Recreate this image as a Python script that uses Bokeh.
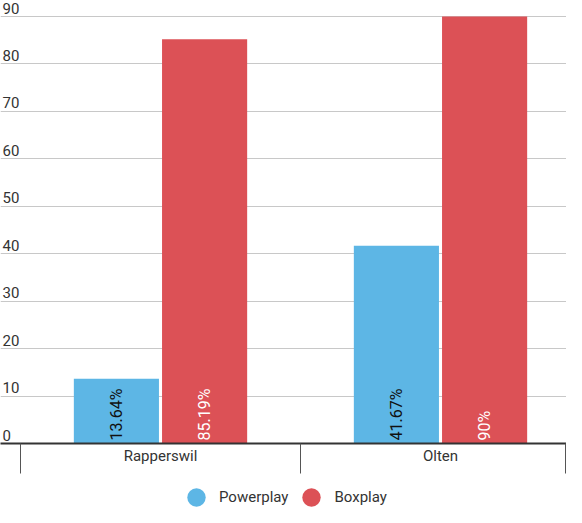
import numpy as np
from bokeh.plotting import figure
from bokeh.layouts import column
from bokeh.models import Range1d, FixedTicker, ColumnDataSource, LabelSet
from bokeh.transform import dodge
from bokeh.core.properties import value
from bokeh.embed import file_html
from bokeh.resources import INLINE

# ---- data ----
categories = ["Rapperswil", "Olten"]
series = ["Powerplay", "Boxplay"]
powerplay = [13.64, 41.67]
boxplay = [85.19, 90]
y_ticks = [0, 10, 20, 30, 40, 50, 60, 70, 80, 90]

# ---- styles ----
colors = {"Powerplay": "#5db6e5", "Boxplay": "#dc5156"}
label_colors = {"Powerplay": "#111111", "Boxplay": "#ffffff"}
offsets = {"Powerplay": -0.1575, "Boxplay": 0.1575}
bar_width = 0.304
FONT = "Roboto"
TXT = "#333333"

W = 566
H_MAIN, H_LEG = 478, 29
AXIS_Y = 443          # pixel row of the baseline
TOP_Y = 16            # pixel row of the top gridline
px_per_cat = 280
x_start = -20 / px_per_cat
x_end = x_start + W / px_per_cat
y_max = max(y_ticks)
y_end = y_max * AXIS_Y / (AXIS_Y - TOP_Y)   # headroom above top gridline for its label

cx = np.arange(len(categories)) + 0.5
src = ColumnDataSource(dict(
    cx=cx,
    Powerplay=powerplay,
    Boxplay=boxplay,
    Powerplay_lbl=[f"{v:g}%" for v in powerplay],
    Boxplay_lbl=[f"{v:g}%" for v in boxplay],
    zero=[0] * len(categories),
))

p = figure(width=W, height=H_MAIN, output_backend="svg", toolbar_location=None,
           x_range=Range1d(x_start, x_end), y_range=Range1d(0, y_end),
           y_axis_location=None,
           min_border_left=0, min_border_right=0,
           min_border_top=0, min_border_bottom=H_MAIN - AXIS_Y)
p.outline_line_color = None
p.background_fill_color = "white"
p.border_fill_color = "white"

# grid
p.xgrid.visible = False
p.ygrid.ticker = FixedTicker(ticks=y_ticks)
p.ygrid.grid_line_color = "#c8c8c8"
p.ygrid.grid_line_width = 1

# bars + labels
for s in series:
    p.vbar(x=dodge("cx", offsets[s]), top=s, width=bar_width, bottom=0,
           source=src, fill_color=colors[s], line_color=None)
    p.text(x=dodge("cx", offsets[s]), y="zero", text=f"{s}_lbl", source=src,
           angle=np.pi / 2, text_align="left", text_baseline="middle",
           y_offset=-3, text_font=value(FONT), text_font_size="16px",
           text_color=label_colors[s])

# y tick labels drawn inside plot, above gridlines
ysrc = ColumnDataSource(dict(y=y_ticks, text=[str(t) for t in y_ticks]))
p.add_layout(LabelSet(x=2, y="y", text="text", x_units="screen", source=ysrc,
                      text_baseline="alphabetic", text_align="left", y_offset=3,
                      text_font=value(FONT), text_font_size="15px",
                      text_color=TXT))

# category axis: labels at centres, separators as minor ticks at boundaries
boundaries = [min(float(i), x_end - 1 / px_per_cat) for i in range(len(categories) + 1)]
ax = p.xaxis[0]
ax.ticker = FixedTicker(ticks=list(cx), minor_ticks=boundaries)
ax.major_label_overrides = {float(c): cat for c, cat in zip(cx, categories)}
ax.major_tick_out = 0
ax.major_tick_in = 0
ax.minor_tick_in = 0
ax.minor_tick_out = 30
ax.minor_tick_line_color = "#555555"
ax.minor_tick_line_width = 1
ax.axis_line_color = "#333333"
ax.axis_line_width = 2
ax.major_label_standoff = -27
ax.major_label_text_font = FONT
ax.major_label_text_font_size = "15px"
ax.major_label_text_color = TXT

# legend figure (invisible NaN points only carry the legend glyph style)
lp = figure(width=W, height=H_LEG, output_backend="svg", toolbar_location=None,
            x_range=Range1d(0, 1), y_range=Range1d(0, 1),
            x_axis_location=None, y_axis_location=None,
            min_border_left=0, min_border_right=0, min_border_top=0, min_border_bottom=0)
lp.outline_line_color = None
lp.grid.visible = False
for s in series:
    lp.scatter(x=[np.nan], y=[np.nan], marker="circle", fill_color=colors[s],
               line_color=None, legend_label=s)
lg = lp.legend[0]
lg.orientation = "horizontal"
lg.location = (173, -13)
lg.glyph_width = 46
lg.glyph_height = 46
lg.label_standoff = 0
lg.spacing = 0
lg.padding = 0
lg.margin = 0
lg.border_line_color = None
lg.background_fill_alpha = 0
lg.label_text_font = FONT
lg.label_text_font_size = "15px"
lg.label_text_color = TXT

layout = column(p, lp, spacing=0)
open("out.html", "w").write(file_html(layout, INLINE))
